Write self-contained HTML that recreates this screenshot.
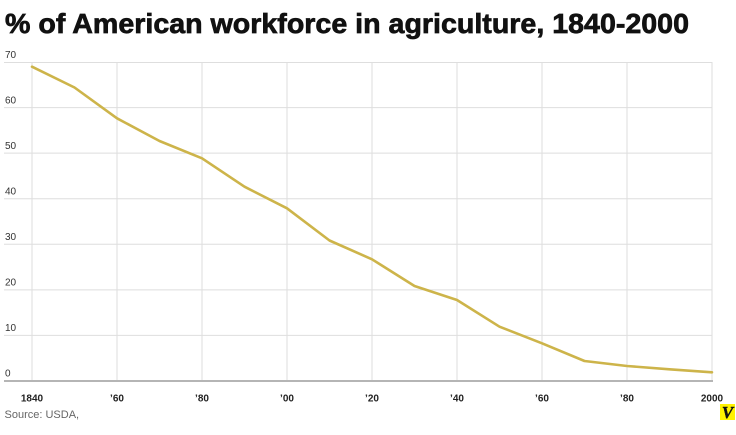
<!DOCTYPE html>
<html>
<head>
<meta charset="utf-8">
<style>
html,body{margin:0;padding:0;background:#fff;}
svg{display:block;}
</style>
</head>
<body>
<svg width="736" height="435" viewBox="0 0 736 435" xmlns="http://www.w3.org/2000/svg">
  <rect width="736" height="435" fill="#fff"/>
  <text x="5" y="33" font-family="Liberation Sans, sans-serif" font-weight="bold" font-size="28" fill="#111" stroke="#111" stroke-width="0.7" textLength="684" lengthAdjust="spacingAndGlyphs">% of American workforce in agriculture, 1840-2000</text>

  <!-- horizontal gridlines -->
  <g stroke="#dedede" stroke-width="1">
    <line x1="4" y1="62.5" x2="712" y2="62.5"/>
    <line x1="4" y1="107.6" x2="712" y2="107.6"/>
    <line x1="4" y1="153.1" x2="712" y2="153.1"/>
    <line x1="4" y1="198.7" x2="712" y2="198.7"/>
    <line x1="4" y1="244.3" x2="712" y2="244.3"/>
    <line x1="4" y1="289.9" x2="712" y2="289.9"/>
    <line x1="4" y1="335.4" x2="712" y2="335.4"/>
  </g>
  <!-- vertical gridlines -->
  <g stroke="#dedede" stroke-width="1">
    <line x1="32" y1="62" x2="32" y2="381"/>
    <line x1="117" y1="62" x2="117" y2="381"/>
    <line x1="202" y1="62" x2="202" y2="381"/>
    <line x1="287" y1="62" x2="287" y2="381"/>
    <line x1="372" y1="62" x2="372" y2="381"/>
    <line x1="457" y1="62" x2="457" y2="381"/>
    <line x1="542" y1="62" x2="542" y2="381"/>
    <line x1="627" y1="62" x2="627" y2="381"/>
    <line x1="712" y1="62" x2="712" y2="381"/>
  </g>
  <line x1="4" y1="381" x2="713" y2="381" stroke="#b5b5b5" stroke-width="2"/>

  <!-- y labels -->
  <g font-family="Liberation Sans, sans-serif" font-size="10" fill="#333">
    <text x="5" y="58">70</text>
    <text x="5" y="103.5">60</text>
    <text x="5" y="149">50</text>
    <text x="5" y="194.5">40</text>
    <text x="5" y="240">30</text>
    <text x="5" y="285.5">20</text>
    <text x="5" y="331">10</text>
    <text x="5" y="376.5">0</text>
  </g>

  <!-- x labels -->
  <g font-family="Liberation Sans, sans-serif" font-size="10" font-weight="bold" fill="#222" text-anchor="middle">
    <text x="32" y="401.5">1840</text>
    <text x="117" y="401.5">’60</text>
    <text x="202" y="401.5">’80</text>
    <text x="287" y="401.5">’00</text>
    <text x="372" y="401.5">’20</text>
    <text x="457" y="401.5">’40</text>
    <text x="542" y="401.5">’60</text>
    <text x="627" y="401.5">’80</text>
    <text x="712" y="401.5">2000</text>
  </g>

  <!-- data line -->
  <polyline fill="none" stroke="#cdb44a" stroke-width="2.6" stroke-linejoin="round" stroke-linecap="round"
    points="32,66.7 74.5,87.5 117,118.3 159.5,141 202,158.3 244.5,186.7 287,208.3 329.5,240.5 372,259.3 414.5,286 457,300 499.5,326.7 542,343.3 584.5,361 627,366 669.5,369.3 712,372.3"/>

  <text x="4.5" y="418" font-family="Liberation Sans, sans-serif" font-size="11" fill="#666">Source: USDA,</text>

  <!-- logo -->
  <rect x="720" y="404" width="15" height="16" fill="#fff200"/>
  <text x="727.5" y="418" font-family="Liberation Serif, serif" font-weight="bold" font-style="italic" font-size="17" fill="#111" stroke="#111" stroke-width="0.4" text-anchor="middle">V</text>
</svg>
</body>
</html>
